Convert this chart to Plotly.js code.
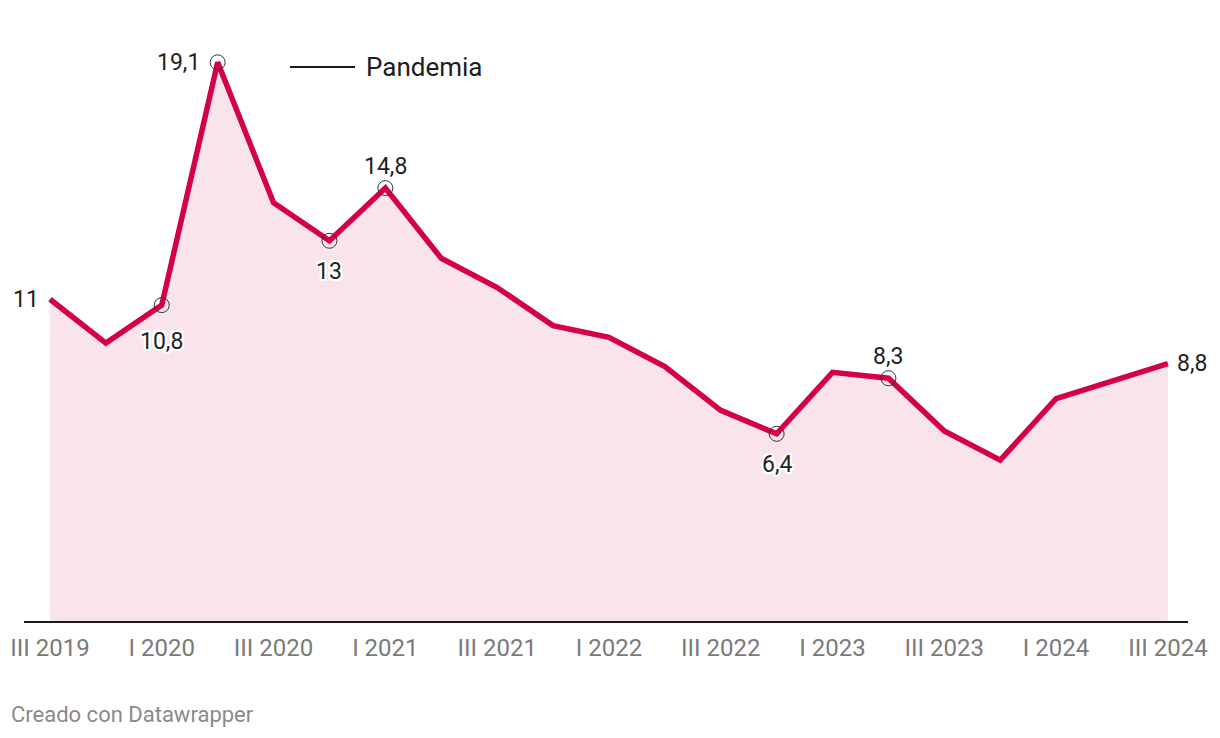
<!DOCTYPE html>
<html>
<head>
<meta charset="utf-8">
<script src="https://cdn.plot.ly/plotly-3.0.1.min.js"></script>
<style>
  html, body { margin: 0; padding: 0; background: #fff; }
  #chart { width: 1220px; height: 738px; }
</style>
</head>
<body>
<div id="chart"></div>
<script>
// quarters, III 2019 .. III 2024
var quarters = ['III 2019', 'IV 2019', 'I 2020', 'II 2020', 'III 2020', 'IV 2020',
  'I 2021', 'II 2021', 'III 2021', 'IV 2021', 'I 2022', 'II 2022', 'III 2022',
  'IV 2022', 'I 2023', 'II 2023', 'III 2023', 'IV 2023', 'I 2024', 'II 2024', 'III 2024'];
var values = [11, 9.5, 10.8, 19.1, 14.3, 13, 14.8, 12.4, 11.4, 10.1, 9.7, 8.7, 7.2,
  6.4, 8.5, 8.3, 6.5, 5.5, 7.6, 8.2, 8.8];
var tickLabels = ['III 2019', 'I 2020', 'III 2020', 'I 2021', 'III 2021', 'I 2022',
  'III 2022', 'I 2023', 'III 2023', 'I 2024', 'III 2024'];

// which points get a value label, and where it sits
var labelIdx = [0, 2, 3, 5, 6, 13, 15, 20];
var labelPos = ['left', 'below', 'left', 'below', 'above', 'below', 'above', 'right'];
var circleIdx = [2, 3, 5, 6, 13, 15];

var FONT = 'Roboto, "Noto Sans", sans-serif';
var halo = '-2px -2px 0 #fff, 2px -2px 0 #fff, -2px 2px 0 #fff, 2px 2px 0 #fff, 0 2px 0 #fff, 0 -2px 0 #fff, 2px 0 0 #fff, -2px 0 0 #fff';

function fmt(v) { return String(v).replace('.', ','); }

var traces = [{
  x: quarters,
  y: values,
  type: 'scatter',
  mode: 'lines',
  fill: 'tozeroy',
  fillcolor: '#f9e4eb',
  line: { color: '#d5004c', width: 5.5, shape: 'linear' },
  hoverinfo: 'skip',
  showlegend: false
}, {
  x: circleIdx.map(function(i) { return quarters[i]; }),
  y: circleIdx.map(function(i) { return values[i]; }),
  type: 'scatter',
  mode: 'markers',
  marker: { size: 15, color: 'rgba(0,0,0,0)', line: { color: '#333', width: 1 } },
  hoverinfo: 'skip',
  showlegend: false
}];

var annotations = labelIdx.map(function(i, k) {
  var a = {
    x: quarters[i], y: values[i], xref: 'x', yref: 'y',
    text: fmt(values[i]), showarrow: false,
    font: { family: FONT, size: 23, color: '#222', shadow: halo }
  };
  var p = labelPos[k];
  if (p === 'left') { a.xanchor = 'right'; a.yanchor = 'middle'; a.xshift = (i === 0 ? -9 : -16); }
  if (p === 'right') { a.xanchor = 'left'; a.yanchor = 'middle'; a.xshift = 7; }
  if (p === 'below') { a.xanchor = 'center'; a.yanchor = 'top'; a.yshift = (i === 2 ? -21 : -15); }
  if (p === 'above') { a.xanchor = 'center'; a.yanchor = 'bottom'; a.yshift = 6; }
  return a;
});

// legend and footer
annotations.push({
  xref: 'paper', yref: 'paper', x: 0.2921, y: 0.947, xanchor: 'left', yanchor: 'middle',
  text: 'Pandemia', showarrow: false,
  font: { family: FONT, size: 26, color: '#1d1d1d' }
});
annotations.push({
  xref: 'paper', yref: 'paper', x: -0.0125, y: -0.159, xanchor: 'left', yanchor: 'middle',
  text: 'Creado con Datawrapper', showarrow: false,
  font: { family: FONT, size: 22, color: '#8a8a8a' }
});

var layout = {
  width: 1220,
  height: 738,
  margin: { l: 24, r: 32, t: 36, b: 117 },
  paper_bgcolor: '#fff',
  plot_bgcolor: '#fff',
  font: { family: FONT },
  xaxis: {
    type: 'category',
    range: [-0.465, 20.36],
    tickmode: 'array',
    tickvals: tickLabels,
    ticktext: tickLabels,
    ticks: '',
    ticklabelstandoff: 4,
    showgrid: false,
    zeroline: false,
    showline: true,
    linecolor: '#1a1a1a',
    linewidth: 2,
    tickfont: { family: FONT, size: 24, color: '#7a7a7a' },
    fixedrange: true
  },
  yaxis: {
    range: [0, 20],
    showticklabels: false,
    showgrid: false,
    zeroline: false,
    showline: false,
    ticks: '',
    fixedrange: true
  },
  shapes: [{
    type: 'line', xref: 'paper', yref: 'paper',
    x0: 0.2285, x1: 0.2844, y0: 0.947, y1: 0.947,
    line: { color: '#1a1a1a', width: 2 }
  }],
  annotations: annotations,
  showlegend: false
};

Plotly.newPlot('chart', traces, layout, { displayModeBar: false, staticPlot: true });
</script>
</body>
</html>
